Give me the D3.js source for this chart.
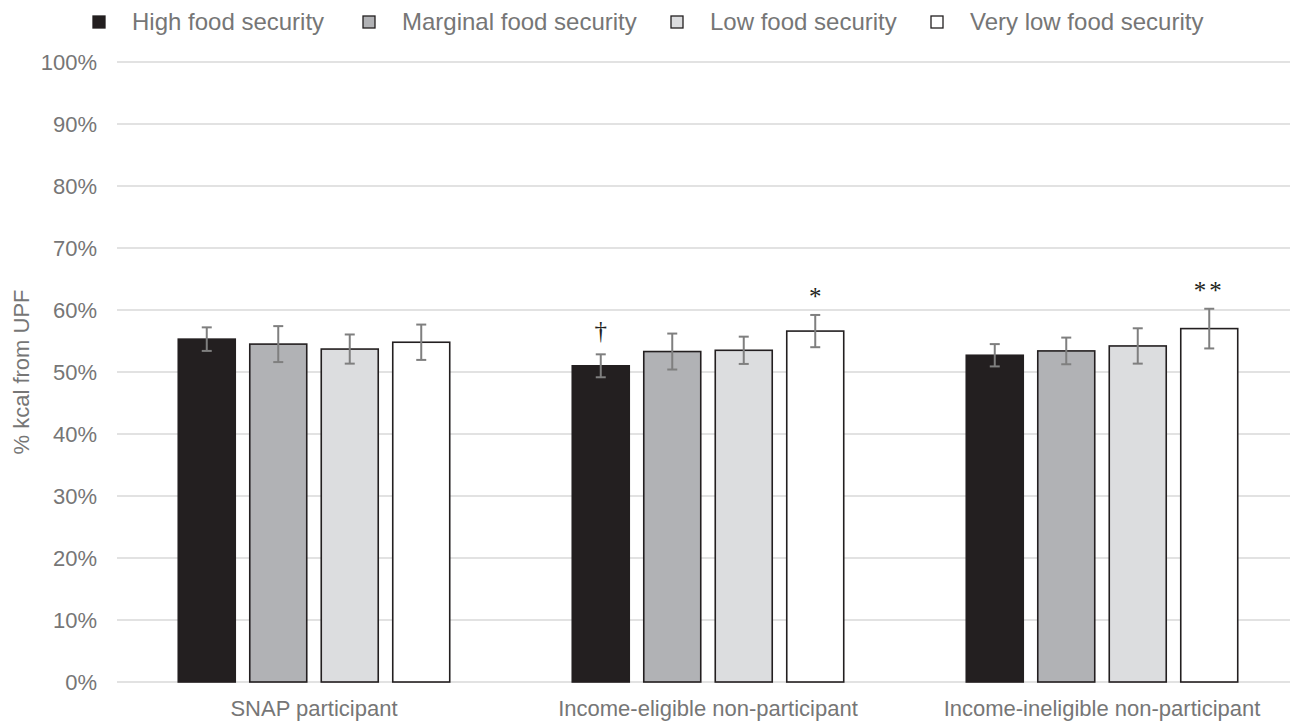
<!DOCTYPE html>
<html>
<head>
<meta charset="utf-8">
<script src="https://cdn.jsdelivr.net/npm/d3@7"></script>
<style>
  html, body { margin: 0; padding: 0; background: #fff; }
  svg { display: block; font-family: "Liberation Sans", Arial, sans-serif; }
</style>
</head>
<body>
<svg id="chart" width="1299" height="721"></svg>
<script>
// Participation groups along the x axis
const categories = ["SNAP participant", "Income-eligible non-participant", "Income-ineligible non-participant"];
// Food security levels (one bar per level in each group)
const seriesNames = ["High food security", "Marginal food security", "Low food security", "Very low food security"];
// Mean % kcal from ultra-processed food, per series, per group
const highValues     = [55.3, 51.0, 52.7];
const marginalValues = [54.5, 53.3, 53.4];
const lowValues      = [53.7, 53.5, 54.2];
const veryLowValues  = [54.8, 56.6, 57.0];
// Error bar half-widths (percentage points)
const highErr     = [1.9, 1.85, 1.8];
const marginalErr = [2.9, 2.9, 2.15];
const lowErr      = [2.35, 2.2, 2.85];
const veryLowErr  = [2.85, 2.6, 3.2];
// Significance markers: [group index, series index, symbol]
const markers = [[1, 0, "\u2020"], [1, 3, "*"], [2, 3, "**"]];
const yTicks = [0, 10, 20, 30, 40, 50, 60, 70, 80, 90, 100];

const values = [highValues, marginalValues, lowValues, veryLowValues];
const errors = [highErr, marginalErr, lowErr, veryLowErr];
const fills = ["#231f20", "#b1b2b5", "#dcdddf", "#ffffff"];
const textColor = "#767676";

const svg = d3.select("#chart");
const margin = { left: 117, right: 0, top: 62, bottom: 39 };
const W = 1299, H = 721;

const x0 = d3.scaleBand().domain(d3.range(categories.length))
  .range([margin.left, W - margin.right]).paddingInner(0).paddingOuter(0);
const x1 = d3.scaleBand().domain(d3.range(seriesNames.length))
  .range([0, x0.bandwidth()]).paddingInner(0.203).paddingOuter(0.857);
const y = d3.scaleLinear().domain([0, 100]).range([H - margin.bottom, margin.top]);

// Gridlines
svg.append("g").selectAll("line").data(yTicks).join("line")
  .attr("x1", margin.left).attr("x2", W - 9)
  .attr("y1", d => y(d)).attr("y2", d => y(d))
  .attr("stroke", "#d9d9d9").attr("stroke-width", 1.3);

// Y axis tick labels
svg.append("g").selectAll("text").data(yTicks).join("text")
  .attr("x", 97).attr("y", d => y(d)).attr("dy", "0.35em")
  .attr("text-anchor", "end").attr("font-size", 22).attr("fill", textColor)
  .text(d => d + "%");

// Y axis title
svg.append("text")
  .attr("transform", `translate(29,${y(50)}) rotate(-90)`)
  .attr("text-anchor", "middle").attr("font-size", 22).attr("fill", textColor)
  .text("% kcal from UPF");

// Bars
const groups = svg.append("g").selectAll("g").data(categories).join("g")
  .attr("transform", (d, i) => `translate(${x0(i)},0)`);

groups.each(function (cat, ci) {
  const g = d3.select(this);
  seriesNames.forEach((s, si) => {
    const v = values[si][ci], e = errors[si][ci];
    const bx = x1(si), bw = x1.bandwidth();
    g.append("rect")
      .attr("x", bx).attr("y", y(v))
      .attr("width", bw).attr("height", y(0) - y(v))
      .attr("fill", fills[si]).attr("stroke", "#231f20").attr("stroke-width", 1.6);
    const cx = bx + bw / 2;
    const eg = g.append("g").attr("stroke", "#7f7f7f").attr("stroke-width", 2);
    eg.append("line").attr("x1", cx).attr("x2", cx).attr("y1", y(v + e)).attr("y2", y(v - e));
    eg.append("line").attr("x1", cx - 5).attr("x2", cx + 5).attr("y1", y(v + e)).attr("y2", y(v + e));
    eg.append("line").attr("x1", cx - 5).attr("x2", cx + 5).attr("y1", y(v - e)).attr("y2", y(v - e));
  });
});

// Significance markers above the error bars
svg.append("g").selectAll("text").data(markers).join("text")
  .attr("x", d => x0(d[0]) + x1(d[1]) + x1.bandwidth() / 2)
  .attr("y", d => y(values[d[1]][d[0]] + errors[d[1]][d[0]]) - (d[2] === "\u2020" ? 15 : 10))
  .attr("text-anchor", "middle").attr("font-size", 25).attr("fill", "#231f20")
  .attr("font-family", "'Liberation Serif', 'DejaVu Serif', serif")
  .attr("letter-spacing", d => d[2].length > 1 ? "3px" : null)
  .text(d => d[2]);

// Category labels
svg.append("g").selectAll("text").data(categories).join("text")
  .attr("x", (d, i) => x0(i) + x0.bandwidth() / 2).attr("y", 716)
  .attr("text-anchor", "middle").attr("font-size", 22).attr("fill", textColor)
  .text(d => d);

// Legend
const legendX = [93, 363, 671, 931];
const legend = svg.append("g").selectAll("g").data(seriesNames).join("g")
  .attr("transform", (d, i) => `translate(${legendX[i]},22)`);
legend.append("rect").attr("x", 0).attr("y", -6).attr("width", 12).attr("height", 12)
  .attr("fill", (d, i) => fills[i]).attr("stroke", "#231f20").attr("stroke-width", 1.3);
legend.append("text").attr("x", 39).attr("y", 0).attr("dy", "0.35em")
  .attr("font-size", 24).attr("fill", textColor).text(d => d);
</script>
</body>
</html>
